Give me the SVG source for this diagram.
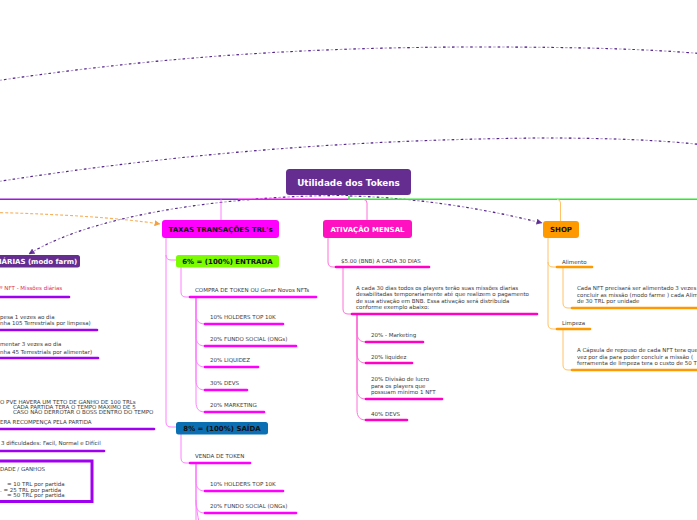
<svg xmlns="http://www.w3.org/2000/svg" width="697" height="520" viewBox="0 0 697 520">
<defs>
<style>
.t{font-family:"DejaVu Sans",Verdana,sans-serif;font-size:5.5px;fill:#3a3a3a}
.h{font-family:"DejaVu Sans",Verdana,sans-serif;font-weight:bold;font-size:7px;fill:#111}
.hw{font-family:"DejaVu Sans",Verdana,sans-serif;font-weight:bold;font-size:7px;fill:#fff}
.c{fill:none;stroke-width:1}
.pk{stroke:#ff80ff}
.pa{stroke:#ff70d8}
.or{stroke:#ffc266}
.ul{fill:none;stroke-width:2.6;stroke-linecap:round}
.um{stroke:#ff00ff}
.ua{stroke:#ff00c4}
.uo{stroke:#ff9900}
.up{stroke:#a000f0}
.dl{fill:none;stroke:#b39ad0;stroke-width:1.1;stroke-dasharray:2.5 2}
.dd{fill:none;stroke:#55248a;stroke-width:1.1;stroke-dasharray:2.5 6.5}
.do{fill:none;stroke:#f8b05a;stroke-width:1.1;stroke-dasharray:3 2}
</style>
<marker id="ap" viewBox="0 0 6 6" refX="5.5" refY="3" markerWidth="6" markerHeight="6" markerUnits="userSpaceOnUse" orient="auto"><path d="M0,0 L6,3 L0,6 z" fill="#6b3aa0"/></marker>
<marker id="ao" viewBox="0 0 6 6" refX="5.5" refY="3" markerWidth="6" markerHeight="6" markerUnits="userSpaceOnUse" orient="auto"><path d="M0,0 L6,3 L0,6 z" fill="#f5a040"/></marker>
</defs>
<rect width="697" height="520" fill="#fff"/>

<g id="connectors">
<path class="dl" d="M-5 81 C150 58,300 47,480 47 C580 47,650 49,705 54"/>
<path class="dd" d="M-5 81 C150 58,300 47,480 47 C580 47,650 49,705 54"/>
<path class="dl" d="M-5 182 C150 158,320 140,540 138 C610 138,660 140,705 145"/>
<path class="dd" d="M-5 182 C150 158,320 140,540 138 C610 138,660 140,705 145"/>
<path class="dl" d="M348 195.5 C250 195,100 210,29 254" marker-end="url(#ap)"/>
<path class="dd" d="M348 195.5 C250 195,100 210,29 254"/>
<path class="dl" d="M350 196 C400 197,470 205,542 223" marker-end="url(#ap)"/>
<path class="dd" d="M350 196 C400 197,470 205,542 223"/>
<path class="do" d="M-5 212.5 C60 214,120 218,160 224" marker-end="url(#ao)"/>

<line x1="0" y1="199.3" x2="238" y2="199.3" stroke="#9b19e0" stroke-width="1.4"/>
<line x1="238" y1="199.3" x2="349" y2="199.3" stroke="#ff00ff" stroke-width="1.4"/>
<path d="M349 195.5 V199.3 H700" fill="none" stroke="#2ee82e" stroke-width="1.4"/>
<path class="c pk" d="M221 199.3 V220"/>
<path class="c pa" d="M363 199.3 Q367 199.3 367 203 V220"/>
<path class="c or" d="M557 199.3 Q560.5 199.3 560.5 203 V221"/>

<path class="c pk" d="M166 238 V255 Q166 260 171 260 H176"/>
<path class="c pk" d="M166 255 V422 Q166 427 171 427 H176"/>
<path class="c pk" d="M181 267 V292 Q181 297 186 297 H190"/>
<path class="c pk" d="M196 297 V314 C196 321,199 324,205 324"/>
<path class="c pk" d="M196 297 V336 C196 343,199 346,205 346"/>
<path class="c pk" d="M196 297 V357 C196 364,199 367,205 367"/>
<path class="c pk" d="M196 297 V380 C196 387,199 390,205 390"/>
<path class="c pk" d="M196 297 V402 C196 409,199 412,205 412"/>
<path class="c pk" d="M181 434 V458 Q181 463 186 463 H190"/>
<path class="c pk" d="M196 463 V481 C196 488,199 491,205 491"/>
<path class="c pk" d="M196 463 V503 C196 510,199 513,205 513"/>
<path class="c pk" d="M196 463 V530"/>
<path class="c pk" d="M196 500 C197 515,199 522,201 530"/>

<path class="c pa" d="M328 238 V262 Q328 267 333 267 H336"/>
<path class="c pa" d="M343 267 V309 Q343 314 348 314 H352"/>
<path class="c pa" d="M357 314 V332 C357 339,360 342,366 342"/>
<path class="c pa" d="M357 314 V353 C357 360,360 363,366 363"/>
<path class="c pa" d="M357 314 V389 C357 396,360 399,366 399"/>
<path class="c pa" d="M357 314 V410 C357 417,360 420,366 420"/>

<path class="c or" d="M548 238 V262 Q548 267 553 267 H557"/>
<path class="c or" d="M548 262 V324 Q548 329 553 329 H557"/>
<path class="c or" d="M563 267 V303 Q563 308 568 308 H572"/>
<path class="c or" d="M563 329 V365 Q563 370 568 370 H572"/>
</g>

<g id="central">
<rect x="286" y="169" width="125" height="26" rx="3.5" fill="#662d91"/>
<text x="348.5" y="185.8" text-anchor="middle" font-family="DejaVu Sans, Verdana, sans-serif" font-weight="bold" font-size="8.8" fill="#fff">Utilidade dos Tokens</text>
</g>

<g id="missoes">
<rect x="-10" y="255" width="90" height="12.5" rx="2.5" fill="#662d91"/>
<text class="hw" x="-1" y="263.8">IÁRIAS (modo farm)</text>
<text class="t" x="0" y="290" style="fill:#e0304e">º NFT - Missões diárias</text>
<line class="ul up" x1="-3" y1="297" x2="69" y2="297"/>
<text class="t" x="0" y="318.5">pesa  1 vezes ao dia</text>
<text class="t" x="0" y="324.5">nha 105 Terrestrials por limpesa)</text>
<line class="ul up" x1="-3" y1="330" x2="97" y2="330"/>
<text class="t" x="0" y="346">mentar 3 vezes ao dia</text>
<text class="t" x="0" y="354">nha 45 Terrestrials por alimentar)</text>
<line class="ul up" x1="-3" y1="358" x2="98" y2="358"/>
<text class="t" x="0" y="403.5">O  PVE HAVERA UM TETO DE GANHO DE 100 TRLs</text>
<text class="t" x="13" y="409">CADA PARTIDA TERA  O TEMPO MAXIMO  DE 5</text>
<text class="t" x="13" y="414.3">CASO NÃO DERROTAR O BOSS DENTRO DO TEMPO</text>
<text class="t" x="0" y="423.7">ERA RECOMPENÇA PELA PARTIDA</text>
<line class="ul up" x1="-3" y1="429" x2="154" y2="429"/>
<text class="t" x="1" y="445">3 dificuldades: Facil, Normal e Difícil</text>
<line class="ul up" x1="-3" y1="451" x2="104" y2="451"/>
<rect x="-5" y="461" width="97" height="40.5" fill="none" stroke="#a000f0" stroke-width="3"/>
<text class="t" x="0" y="471">DADE / GANHOS</text>
<text class="t" x="7" y="486">=  10 TRL  por partida</text>
<text class="t" x="0" y="491.5">.  =  25 TRL  por partida</text>
<text class="t" x="7" y="497">=  50 TRL  por partida</text>
</g>

<g id="taxas">
<rect x="162" y="220" width="117" height="18" rx="3" fill="#ff00ff"/>
<text class="h" x="220.5" y="231.6" text-anchor="middle">TAXAS TRANSAÇÕES TRL's</text>
</g>

<g id="entrada">
<rect x="176" y="255" width="103" height="12.5" rx="2.5" fill="#7cfc00"/>
<text class="h" x="227.5" y="264" text-anchor="middle">6% = (100%) ENTRADA</text>
<text class="t" x="195" y="292">COMPRA DE TOKEN OU Gerar Novos NFTs</text>
<line class="ul um" x1="190" y1="297" x2="316" y2="297"/>
<text class="t" x="210" y="319">10% HOLDERS TOP 10K</text>
<line class="ul um" x1="205" y1="324" x2="283" y2="324"/>
<text class="t" x="210" y="341">20% FUNDO SOCIAL (ONGs)</text>
<line class="ul um" x1="205" y1="346" x2="296" y2="346"/>
<text class="t" x="210" y="362">20% LIQUIDEZ</text>
<line class="ul um" x1="205" y1="367" x2="258" y2="367"/>
<text class="t" x="210" y="385">30%  DEVS</text>
<line class="ul um" x1="205" y1="390" x2="247" y2="390"/>
<text class="t" x="210" y="406.5">20% MARKETING</text>
<line class="ul um" x1="205" y1="412" x2="264" y2="412"/>
</g>

<g id="saida">
<rect x="176" y="422" width="92" height="12.5" rx="2.5" fill="#0b6fb3"/>
<text class="h" x="222" y="431" text-anchor="middle">8% = (100%) SAÍDA</text>
<text class="t" x="195" y="458">VENDA DE TOKEN</text>
<line class="ul um" x1="190" y1="463" x2="250" y2="463"/>
<text class="t" x="210" y="486">10% HOLDERS TOP 10K</text>
<line class="ul um" x1="205" y1="491" x2="283" y2="491"/>
<text class="t" x="210" y="508">20% FUNDO SOCIAL (ONGs)</text>
<line class="ul um" x1="205" y1="513" x2="296" y2="513"/>
</g>

<g id="ativacao">
<rect x="323" y="220" width="89" height="18" rx="3" fill="#ff10c0"/>
<text class="hw" x="367.5" y="231.6" text-anchor="middle">ATIVAÇÃO MENSAL</text>
<text class="t" x="341" y="263">$5.00 (BNB) A CADA 30 DIAS</text>
<line class="ul ua" x1="336" y1="267" x2="429" y2="267"/>
<text class="t" x="356" y="290">A cada 30 dias todos os players terão suas missões diarias</text>
<text class="t" x="356" y="296.3">desabilitadas temporariamente até que realizem o pagamento</text>
<text class="t" x="356" y="302.6">de sua ativação em BNB.  Essa ativação será distribuida</text>
<text class="t" x="356" y="309">conforme exemplo abaixo:</text>
<line class="ul ua" x1="352" y1="314" x2="537" y2="314"/>
<text class="t" x="371" y="337">20% - Marketing</text>
<line class="ul ua" x1="366" y1="342" x2="423" y2="342"/>
<text class="t" x="371" y="359">20% liquidez</text>
<line class="ul ua" x1="366" y1="363" x2="412" y2="363"/>
<text class="t" x="371" y="381">20% Divisão de lucro</text>
<text class="t" x="371" y="387.5">para os players que</text>
<text class="t" x="371" y="394">possuam minimo 1 NFT</text>
<line class="ul ua" x1="366" y1="399" x2="442" y2="399"/>
<text class="t" x="371" y="416">40% DEVS</text>
<line class="ul ua" x1="366" y1="420" x2="407" y2="420"/>
</g>

<g id="shop">
<rect x="543" y="221" width="36" height="17" rx="3" fill="#ff9900"/>
<text class="h" x="561" y="232" text-anchor="middle">SHOP</text>
<text class="t" x="562" y="264">Alimento</text>
<line class="ul uo" x1="557" y1="267" x2="592" y2="267"/>
<text class="t" x="577" y="290">Cada NFT  precisará ser alimentado 3 vezes</text>
<text class="t" x="577" y="296.5">concluir as missão (modo farme ) cada Alim</text>
<text class="t" x="577" y="303">de 30  TRL por unidade</text>
<line class="ul uo" x1="572" y1="308" x2="700" y2="308"/>
<text class="t" x="562" y="325">Limpeza</text>
<line class="ul uo" x1="557" y1="329" x2="590" y2="329"/>
<text class="t" x="577" y="352">A Cápsula de repouso de cada NFT tera que</text>
<text class="t" x="577" y="358.5">vez por dia para poder concluir a missão (</text>
<text class="t" x="577" y="365">ferramenta de limpeza tera o custo de 50 T</text>
<line class="ul uo" x1="572" y1="370" x2="700" y2="370"/>
</g>
</svg>
